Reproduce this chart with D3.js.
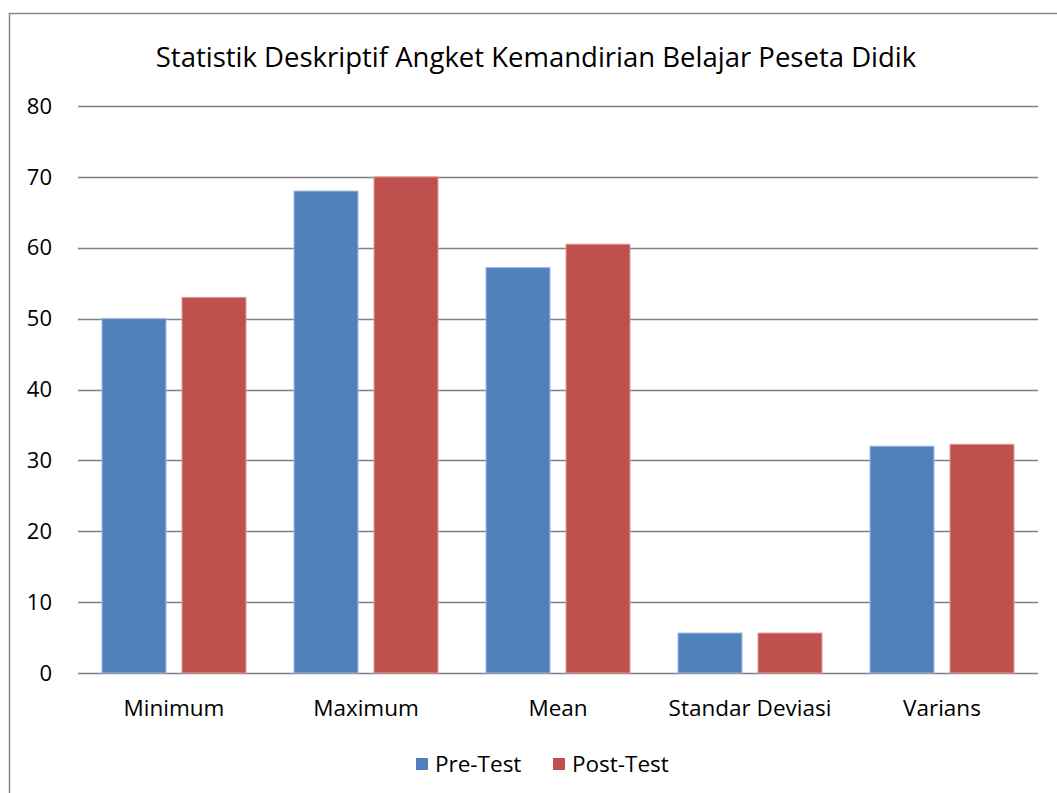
<!DOCTYPE html>
<html>
<head>
<meta charset="utf-8">
<script src="https://cdn.jsdelivr.net/npm/d3@7"></script>
<style>
  body { margin: 0; background: #fff; }
  svg { display: block; font-family: "Open Sans", "Noto Sans", sans-serif; }
</style>
</head>
<body>
<div id="chart"></div>
<script>
const categories = ['Minimum', 'Maximum', 'Mean', 'Standar Deviasi', 'Varians']
const seriesNames = ['Pre-Test', 'Post-Test']
const preTest = [50, 68, 57.2, 5.64, 32]
const postTest = [53, 70, 60.5, 5.64, 32.27]
const yTicks = [0, 10, 20, 30, 40, 50, 60, 70, 80]
const colors = ['#4F81BD', '#C0504D']
const strokes = ['#9DB9DE', '#DE9D9B']

const width = 1057, height = 793
const margin = {left: 78, right: 19, top: 106, bottom: 120}

const svg = d3.select('#chart').append('svg')
  .attr('width', width)
  .attr('height', height)

svg.append('rect')
  .attr('x', 9.5).attr('y', 13.5)
  .attr('width', 1100).attr('height', 900)
  .attr('fill', 'none')
  .attr('stroke', '#868686')
  .attr('stroke-width', 1.5)

svg.append('text')
  .attr('x', 536).attr('y', 67)
  .attr('text-anchor', 'middle')
  .style('font-size', '27.5px')
  .attr('fill', '#000')
  .text('Statistik Deskriptif Angket Kemandirian Belajar Peseta Didik')

const x0 = d3.scaleBand()
  .domain(categories)
  .range([margin.left, width - margin.right])
  .paddingInner(0.25)
  .paddingOuter(0.125)

const x1 = d3.scaleBand()
  .domain(seriesNames)
  .range([0, x0.bandwidth()])
  .paddingInner(0.2)

const y = d3.scaleLinear()
  .domain([0, 80])
  .range([height - margin.bottom, margin.top])

// gridlines
svg.append('g')
  .selectAll('line')
  .data(yTicks)
  .join('line')
  .attr('x1', margin.left)
  .attr('x2', width - margin.right)
  .attr('y1', (d) => Math.round(y(d)) + 0.5)
  .attr('y2', (d) => Math.round(y(d)) + 0.5)
  .attr('stroke', '#808080')
  .attr('stroke-width', 1.6)

svg.append('g')
  .selectAll('text')
  .data(yTicks)
  .join('text')
  .attr('x', 52)
  .attr('y', (d) => y(d))
  .attr('dy', '0.35em')
  .attr('text-anchor', 'end')
  .style('font-size', '22px')
  .text((d) => d)

const rows = categories.map((c, i) => ({cat: c, values: [preTest[i], postTest[i]]}))

svg.append('g')
  .selectAll('g')
  .data(rows)
  .join('g')
  .attr('transform', (d) => `translate(${x0(d.cat)},0)`)
  .selectAll('rect')
  .data((d) => d.values.map((v, i) => ({name: seriesNames[i], value: v, i})))
  .join('rect')
  .attr('x', (d) => x1(d.name))
  .attr('y', (d) => y(d.value))
  .attr('width', x1.bandwidth())
  .attr('height', (d) => y(0) - y(d.value))
  .attr('fill', (d) => colors[d.i])
  .attr('stroke', (d) => strokes[d.i])
  .attr('stroke-width', 1)

svg.append('g')
  .selectAll('text')
  .data(categories)
  .join('text')
  .attr('x', (d) => x0(d) + x0.bandwidth() / 2)
  .attr('y', 708)
  .attr('dy', '0.35em')
  .attr('text-anchor', 'middle')
  .style('font-size', '22.5px')
  .text((d) => d)

// legend
const legendX = [416, 553]
const legend = svg.append('g')
  .selectAll('g')
  .data(seriesNames)
  .join('g')
  .attr('transform', (d, i) => `translate(${legendX[i]},764)`)
legend.append('rect')
  .attr('x', 0).attr('y', -6)
  .attr('width', 12).attr('height', 12)
  .attr('fill', (d, i) => colors[i])
legend.append('text')
  .attr('x', 19)
  .attr('dy', '0.35em')
  .style('font-size', '22.5px')
  .text((d) => d)
</script>
</body>
</html>
